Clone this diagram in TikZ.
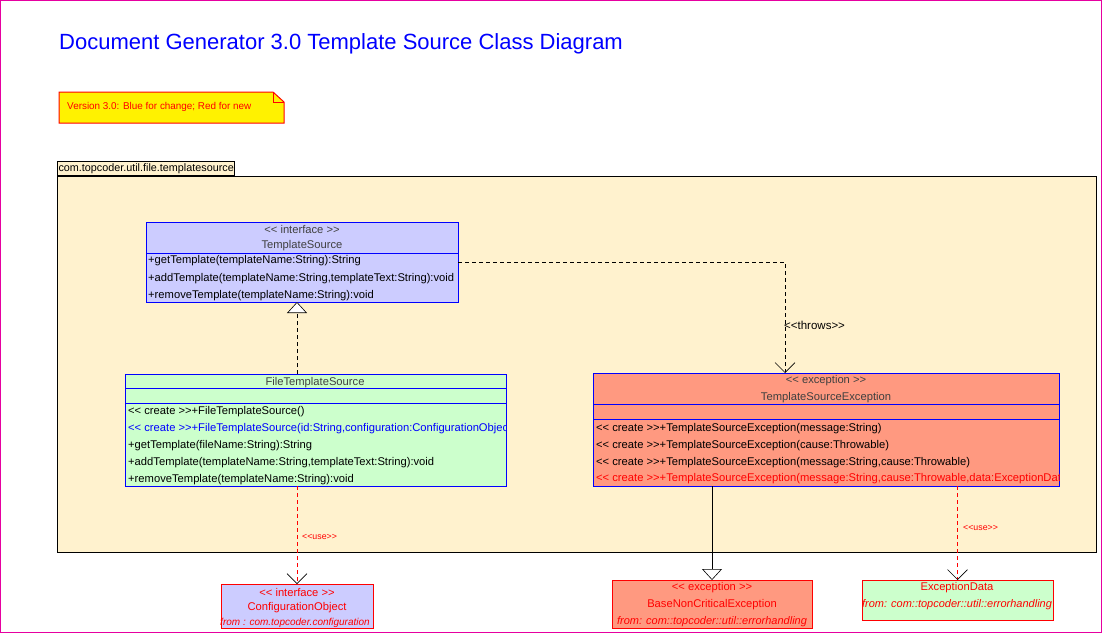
\documentclass[tikz,border=0pt]{standalone}
\usepackage{fontspec}
\newfontfamily\umlfont{Liberation Sans}
\usetikzlibrary{arrows.meta}
\definecolor{lavender}{RGB}{204,204,255}
\definecolor{mint}{RGB}{204,255,204}
\definecolor{salmon}{RGB}{255,153,128}
\definecolor{cream}{RGB}{255,242,206}
\definecolor{framepink}{RGB}{230,0,160}
\definecolor{headgray}{RGB}{64,64,64}
\newcommand{\umlsize}{\fontsize{11.2}{13}\selectfont}

\begin{document}
\begin{tikzpicture}[x=1pt,y=-1pt]
    \tikzstyle{every node}=[font=\umlfont\umlsize]
    \tikzstyle{classbox}=[draw=blue, line width=1pt, inner sep=0pt, outer sep=0pt, anchor=north west]
    \tikzstyle{extbox}=[classbox, draw=red]
    \tikzstyle{member}=[anchor=west, inner sep=0pt, yshift=-1.5pt]
    \tikzstyle{header}=[inner sep=0pt, text=headgray, yshift=-1pt]
    \tikzstyle{exthead}=[inner sep=0pt, text=red, yshift=-1pt]
    \tikzstyle{fromtext}=[exthead, font=\umlfont\fontsize{11}{13}\selectfont\itshape]
    \tikzstyle{usetext}=[anchor=west, inner sep=0pt, text=red, font=\umlfont\fontsize{8.8}{10}\selectfont]
    \tikzstyle{sep}=[blue, line width=1pt]
    \tikzstyle{dep}=[line width=1pt, dash pattern=on 4pt off 3pt, -{Straight Barb[length=10pt,width=20pt,line width=0.6pt,color=black]}]
    \tikzstyle{use}=[dep, red]
    \tikzstyle{realize}=[line width=1pt, dash pattern=on 4pt off 3pt, -{Triangle[length=11pt,width=20pt,fill=white,line width=0.6pt]}]
    \tikzstyle{inherit}=[line width=1pt, -{Triangle[length=11pt,width=20pt,fill=white,line width=0.6pt]}]

    \useasboundingbox (0,0) rectangle (1102,633);
    \draw[framepink, line width=1pt] (0.5,0.5) rectangle (1101,632);

    % title and note
    \node[anchor=west, inner sep=0pt, text=blue, font=\umlfont\fontsize{22}{26}\selectfont] (title) at (59,44) {Document Generator 3.0 Template Source Class Diagram};
    \draw[red, fill=yellow, line width=1pt] (59,92) -- (273,92) -- (284,102) -- (284,123) -- (59,123) -- cycle;
    \draw[red, line width=1pt] (273,92) -- (273,102) -- (284,102);
    \node[anchor=west, inner sep=0pt, text=red, font=\umlfont\fontsize{9.9}{11}\selectfont] (note) at (67,107) {Version 3.0: Blue for change; Red for new};

    % package
    \node[draw, fill=cream, line width=1pt, anchor=north west, minimum width=1039, minimum height=376] (pkg) at (57,176) {};
    \node[draw, fill=cream, line width=1pt, anchor=south west, inner sep=1pt, minimum height=14, font=\umlfont\fontsize{10.8}{12}\selectfont] (pkgtab) at (pkg.north west) {com.topcoder.util.file.templatesource};

    % template source
    \node[classbox, fill=lavender, minimum width=312, minimum height=80] (ts) at (146,222) {};
    \node[header] (tsst) at (302,228) {<< interface >>};
    \node[header] (tsname) at (302,245) {TemplateSource};
    \draw[sep] (146,253) -- (458,253);
    \node[member] (tsm1) at (148,259) {+getTemplate(templateName:String):String};
    \node[member] (tsm2) at (148,277) {+addTemplate(templateName:String,templateText:String):void};
    \node[member] (tsm3) at (148,294) {+removeTemplate(templateName:String):void};

    % file template source
    \node[classbox, fill=mint, minimum width=381, minimum height=112] (fts) at (125,374) {};
    \node[header] (ftsname) at (315,382) {FileTemplateSource};
    \draw[sep] (125,388) -- (506,388);
    \draw[sep] (125,403) -- (506,403);
    \begin{scope}
    \clip (fts.north west) rectangle (fts.south east);
    \node[member] (ftsm1) at (128,410) {<< create >>+FileTemplateSource()};
    \node[member, text=blue] (ftsm2) at (128,427) {<< create >>+FileTemplateSource(id:String,configuration:ConfigurationObject)};
    \node[member] (ftsm3) at (128,444) {+getTemplate(fileName:String):String};
    \node[member] (ftsm4) at (128,461) {+addTemplate(templateName:String,templateText:String):void};
    \node[member] (ftsm5) at (128,478) {+removeTemplate(templateName:String):void};
    \end{scope}

    % template source exception
    \node[classbox, fill=salmon, minimum width=466, minimum height=113] (tse) at (593,373) {};
    \node[header] (tsest) at (826,380) {<< exception >>};
    \node[header] (tsename) at (826,397) {TemplateSourceException};
    \draw[sep] (593,404) -- (1059,404);
    \draw[sep] (593,419) -- (1059,419);
    \begin{scope}
    \clip (tse.north west) rectangle (tse.south east);
    \node[member] (tsem1) at (596,427) {<< create >>+TemplateSourceException(message:String)};
    \node[member] (tsem2) at (596,444) {<< create >>+TemplateSourceException(cause:Throwable)};
    \node[member] (tsem3) at (596,461) {<< create >>+TemplateSourceException(message:String,cause:Throwable)};
    \node[member, text=red] (tsem4) at (596,477) {<< create >>+TemplateSourceException(message:String,cause:Throwable,data:ExceptionData)};
    \end{scope}

    % external classes
    \node[extbox, fill=lavender, minimum width=152, minimum height=44] (cfg) at (221,584) {};
    \node[exthead] (cfgst) at (297,591) {<< interface >>};
    \node[exthead] (cfgname) at (297,607) {ConfigurationObject};
    \node[fromtext, font=\umlfont\fontsize{10}{12}\selectfont\itshape] (cfgfrom) at (295,622) {from : com.topcoder.configuration};

    \node[extbox, fill=salmon, minimum width=200, minimum height=48] (bnce) at (612,580) {};
    \node[exthead] (bncest) at (712,587) {<< exception >>};
    \node[exthead] (bncename) at (712,604) {BaseNonCriticalException};
    \node[fromtext] (bncefrom) at (712,621) {from: com::topcoder::util::errorhandling};

    \node[extbox, fill=mint, minimum width=191, minimum height=40] (ed) at (862,580) {};
    \node[exthead] (edname) at (957,587) {ExceptionData};
    \node[fromtext] (edfrom) at (957,604) {from: com::topcoder::util::errorhandling};

    % relations
    \draw[realize] (fts.north -| cfg.north) -- (ts.south -| cfg.north);
    \coordinate (throwsend) at ([xshift=-41pt]tse.north);
    \draw[dep] (ts.east) -| (throwsend);
    \node[anchor=west, inner sep=0pt, font=\umlfont\fontsize{11.5}{13}\selectfont] (throws) at (784,325) {<<throws>>};
    \draw[use] (fts.south -| cfg.north) -- (cfg.north);
    \node[usetext] (use1) at (302,537) {<<use>>};
    \draw[inherit] (tse.south -| bnce.north) -- (bnce.north);
    \draw[use] (tse.south -| ed.north) -- (ed.north);
    \node[usetext] (use2) at (963,528) {<<use>>};

\end{tikzpicture}
\end{document}
